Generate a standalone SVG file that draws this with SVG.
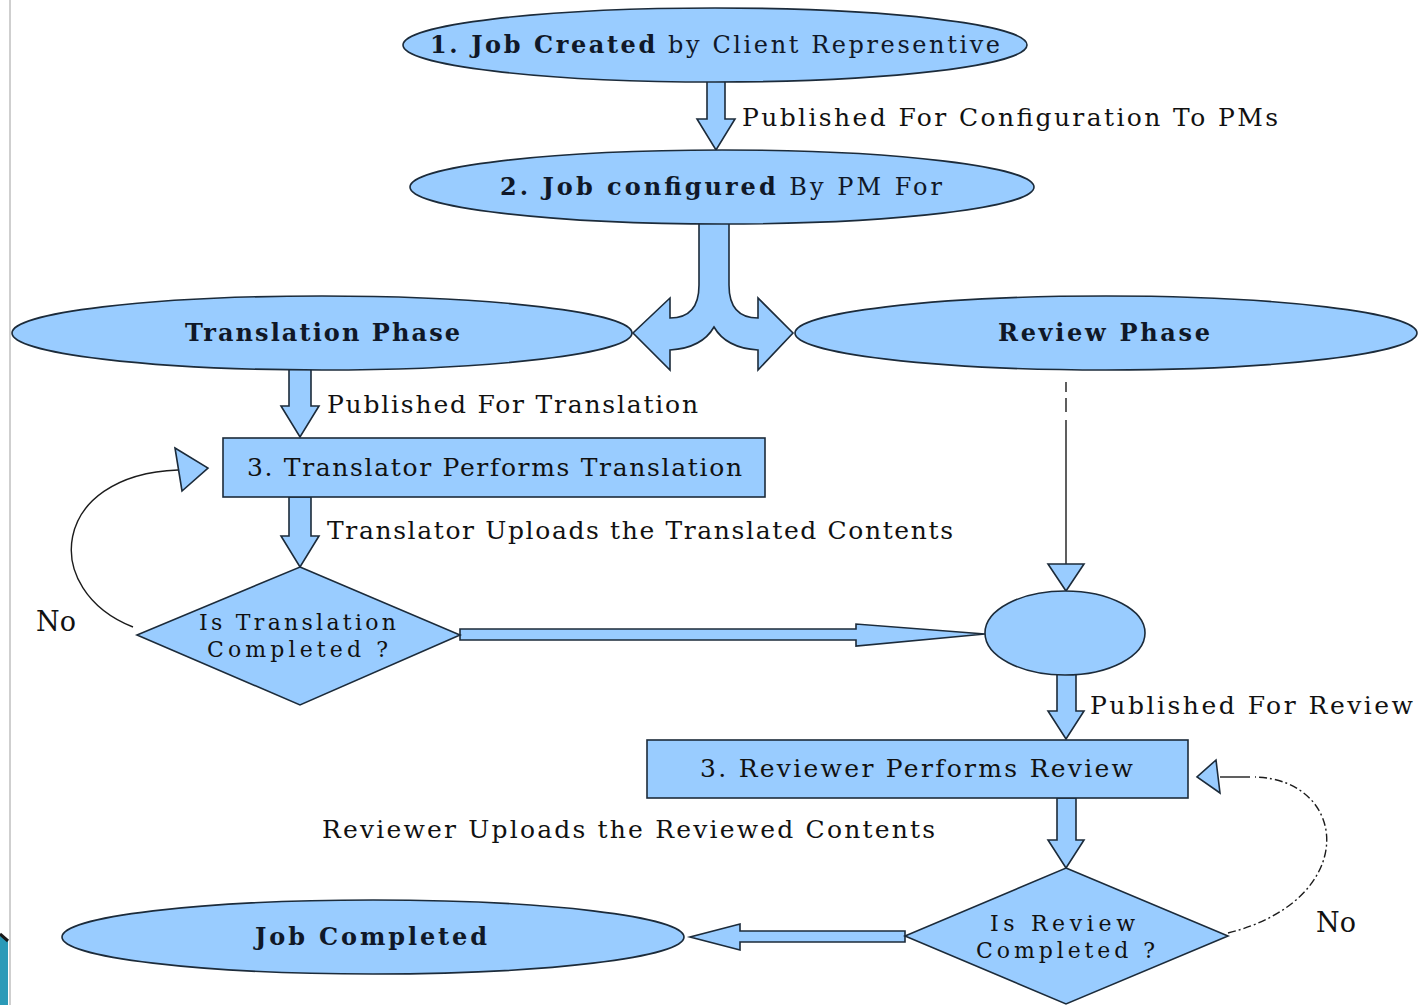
<svg xmlns="http://www.w3.org/2000/svg" width="1418" height="1005" viewBox="0 0 1418 1005">
  <style>
    .shape { fill: #99ccff; stroke: #1c2b3a; stroke-width: 1.6; }
    .line { fill: none; stroke: #1c1c1c; stroke-width: 1.4; }
    .lbl { font-family: "DejaVu Serif", "Liberation Serif", serif; font-size: 25px; fill: #111; }
    .no { font-family: "DejaVu Serif", "Liberation Serif", serif; font-size: 27px; fill: #111; }
    .dec { font-family: "DejaVu Serif", "Liberation Serif", serif; font-size: 22px; fill: #111; }
    .ttl { font-family: "DejaVu Serif", "Liberation Serif", serif; font-size: 24px; fill: #101828; }
    .b { font-weight: bold; }
  </style>

  <rect x="0" y="0" width="1418" height="1005" fill="#ffffff"/>
  <!-- page edge -->
  <rect x="9" y="0" width="2" height="1005" fill="#cfcfcf"/>
  <polygon points="0,934 8,941 8,1005 0,1005" fill="#2b9ab8"/>
  <line x1="0" y1="934" x2="8" y2="941" stroke="#1a1a1a" stroke-width="3"/>

  <!-- connectors -->
  <g id="connectors">
    <!-- job created -> job configured -->
    <path class="shape" d="M707,80 L725,80 L725,119 L735,119 L716,150 L697,119 L707,119 Z"/>
    <!-- split into the two phases -->
    <path class="shape" d="M699,222 L699,285 Q699,318 670,318 L670,298 L633,333 L670,370 L670,350 Q702,348 714,327 Q726,348 758,350 L758,370 L793,333 L758,298 L758,318 Q729,318 729,285 L729,222 Z"/>
    <!-- translation phase -> translator -->
    <path class="shape" d="M289,368 L311,368 L311,406 L319,406 L300,437 L281,406 L289,406 Z"/>
    <!-- translator -> decision -->
    <path class="shape" d="M289,497 L311,497 L311,536 L319,536 L300,567 L281,536 L289,536 Z"/>
    <!-- no: back to translator -->
    <path class="line" d="M133,627 C40,590 50,475 178,470"/>
    <polygon class="shape" points="175,448 208,468 182,491"/>
    <!-- decision -> join -->
    <path class="shape" d="M460,629 L856,629 L856,624 L985,634 L856,646 L856,640 L460,640 Z"/>
    <!-- review phase -> join -->
    <path class="line" d="M1066,382 L1066,564" stroke-dasharray="10 6 14 8 400"/>
    <polygon class="shape" points="1048,564 1084,564 1066,591"/>
    <!-- join -> reviewer -->
    <path class="shape" d="M1057,674 L1076,674 L1076,711 L1084,711 L1066,739 L1048,711 L1057,711 Z"/>
    <!-- reviewer -> decision -->
    <path class="shape" d="M1057,798 L1076,798 L1076,840 L1084,840 L1066,868 L1048,840 L1057,840 Z"/>
    <!-- no: back to reviewer -->
    <path class="line" d="M1228,933 C1360,900 1350,780 1255,777" stroke-dasharray="8 3 2 3"/>
    <line class="line" x1="1220" y1="777" x2="1250" y2="777"/>
    <polygon class="shape" points="1216,760 1197,777 1220,793"/>
    <!-- decision -> job completed -->
    <path class="shape" d="M905,931 L740,931 L740,924 L690,937 L740,950 L740,942 L905,942 Z"/>
  </g>

  <g id="job-created">
    <ellipse class="shape" cx="715" cy="45" rx="312" ry="37"/>
    <text class="ttl" x="430" y="53" textLength="570" lengthAdjust="spacing"><tspan class="b">1. Job Created</tspan> by Client Representive</text>
  </g>
  <text class="lbl" x="742" y="126" textLength="536" lengthAdjust="spacing">Published For Configuration To PMs</text>

  <g id="job-configured">
    <ellipse class="shape" cx="722" cy="187" rx="312" ry="37"/>
    <text class="ttl" x="500" y="195" textLength="442" lengthAdjust="spacing"><tspan class="b">2. Job configured</tspan> By PM For</text>
  </g>

  <g id="translation-phase">
    <ellipse class="shape" cx="322" cy="333" rx="310" ry="37"/>
    <text class="ttl b" x="185" y="341" textLength="275" lengthAdjust="spacing">Translation Phase</text>
  </g>

  <g id="review-phase">
    <ellipse class="shape" cx="1106" cy="333" rx="311" ry="37"/>
    <text class="ttl b" x="998" y="341" textLength="212" lengthAdjust="spacing">Review Phase</text>
  </g>

  <text class="lbl" x="327" y="413" textLength="371" lengthAdjust="spacing">Published For Translation</text>

  <g id="translator">
    <rect class="shape" x="223" y="438" width="542" height="59"/>
    <text class="lbl" x="247" y="476" textLength="495" lengthAdjust="spacing">3. Translator Performs Translation</text>
  </g>

  <text class="lbl" x="327" y="539" textLength="626" lengthAdjust="spacing">Translator Uploads the Translated Contents</text>

  <g id="translation-check">
    <polygon class="shape" points="300,567 460,635 300,705 137,635"/>
    <text class="dec" x="199" y="630" textLength="197" lengthAdjust="spacing">Is Translation</text>
    <text class="dec" x="207" y="657" textLength="181" lengthAdjust="spacing">Completed ?</text>
  </g>
  <text class="no" x="36" y="631">No</text>

  <g id="join">
    <ellipse class="shape" cx="1065" cy="633" rx="80" ry="42"/>
  </g>

  <text class="lbl" x="1090" y="714" textLength="323" lengthAdjust="spacing">Published For Review</text>

  <g id="reviewer">
    <rect class="shape" x="647" y="740" width="541" height="58"/>
    <text class="lbl" x="700" y="777" textLength="433" lengthAdjust="spacing">3. Reviewer Performs Review</text>
  </g>

  <text class="lbl" x="322" y="838" textLength="613" lengthAdjust="spacing">Reviewer Uploads the Reviewed Contents</text>

  <g id="review-check">
    <polygon class="shape" points="1066,868 1228,936 1066,1004 905,936"/>
    <text class="dec" x="990" y="931" textLength="145" lengthAdjust="spacing">Is Review</text>
    <text class="dec" x="976" y="958" textLength="179" lengthAdjust="spacing">Completed ?</text>
  </g>
  <text class="no" x="1316" y="932">No</text>

  <g id="job-completed">
    <ellipse class="shape" cx="373" cy="937" rx="311" ry="37"/>
    <text class="ttl b" x="255" y="945" textLength="232" lengthAdjust="spacing">Job Completed</text>
  </g>
</svg>
